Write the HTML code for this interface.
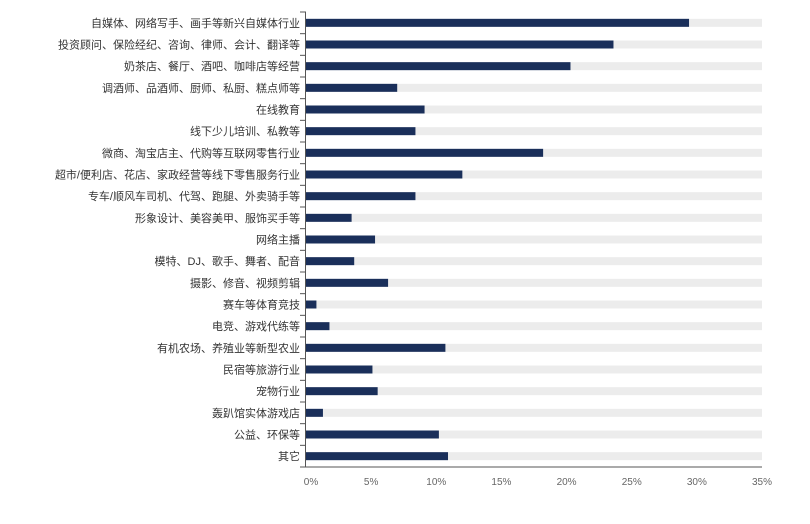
<!DOCTYPE html>
<html><head><meta charset="utf-8"><style>
body{margin:0;background:#fff;}
svg{display:block;font-family:"Liberation Sans","Noto Sans CJK SC",sans-serif;}
</style></head><body>
<svg id="chart" width="810" height="524"></svg>
<script>
const categories=["自媒体、网络写手、画手等新兴自媒体行业","投资顾问、保险经纪、咨询、律师、会计、翻译等","奶茶店、餐厅、酒吧、咖啡店等经营","调酒师、品酒师、厨师、私厨、糕点师等","在线教育","线下少儿培训、私教等","微商、淘宝店主、代购等互联网零售行业","超市/便利店、花店、家政经营等线下零售服务行业","专车/顺风车司机、代驾、跑腿、外卖骑手等","形象设计、美容美甲、服饰买手等","网络主播","模特、DJ、歌手、舞者、配音","摄影、修音、视频剪辑","赛车等体育竞技","电竞、游戏代练等","有机农场、养殖业等新型农业","民宿等旅游行业","宠物行业","轰趴馆实体游戏店","公益、环保等","其它"];
const values=[29.4,23.6,20.3,7.0,9.1,8.4,18.2,12.0,8.4,3.5,5.3,3.7,6.3,0.8,1.8,10.7,5.1,5.5,1.3,10.2,10.9];
const tickValues=[0,5,10,15,20,25,30,35];
const tickLabels=["0%","5%","10%","15%","20%","25%","30%","35%"];
const NS="http://www.w3.org/2000/svg";
const svg=document.getElementById('chart');
const x0=306,x1=762,yTop=12,yBot=467,maxV=35;
const band=(yBot-yTop)/categories.length;
const xs=v=>x0+(v/maxV)*(x1-x0);
const yc=i=>yTop+band*(i+0.5);
function mk(t,a){const e=document.createElementNS(NS,t);for(const k in a)e.setAttribute(k,a[k]);svg.appendChild(e);return e;}
categories.forEach((c,i)=>{
 const bg=mk('rect',{x:x0,y:yc(i)-4,width:x1-x0,height:8,fill:'#ececec'});
 
 
 const b=mk('rect',{x:x0,y:yc(i)-4,width:xs(values[i])-x0,height:8,fill:'#1a2f5a'});
 
 
 const t=mk('text',{x:300,y:yc(i)+4,'text-anchor':'end','font-size':11,fill:'#333'});
 t.textContent=c;
 
 
});
for(let i=0;i<=categories.length;i++){
 const tk=mk('line',{x1:300,x2:x0,y1:yTop+band*i,y2:yTop+band*i,stroke:'#555','stroke-width':1});
 
 
}
const ya=mk('line',{x1:x0-0.5,x2:x0-0.5,y1:yTop,y2:yBot,stroke:'#555','stroke-width':1});


const xa=mk('line',{x1:x0-1,x2:x1,y1:yBot,y2:yBot,stroke:'#555','stroke-width':1});


tickValues.forEach((v,i)=>{
 const t=mk('text',{x:xs(v)+(i==0?5:0),y:485,'text-anchor':'middle','font-size':10,fill:'#666'});
 t.textContent=tickLabels[i];
 
 
});
</script>
</body></html>
